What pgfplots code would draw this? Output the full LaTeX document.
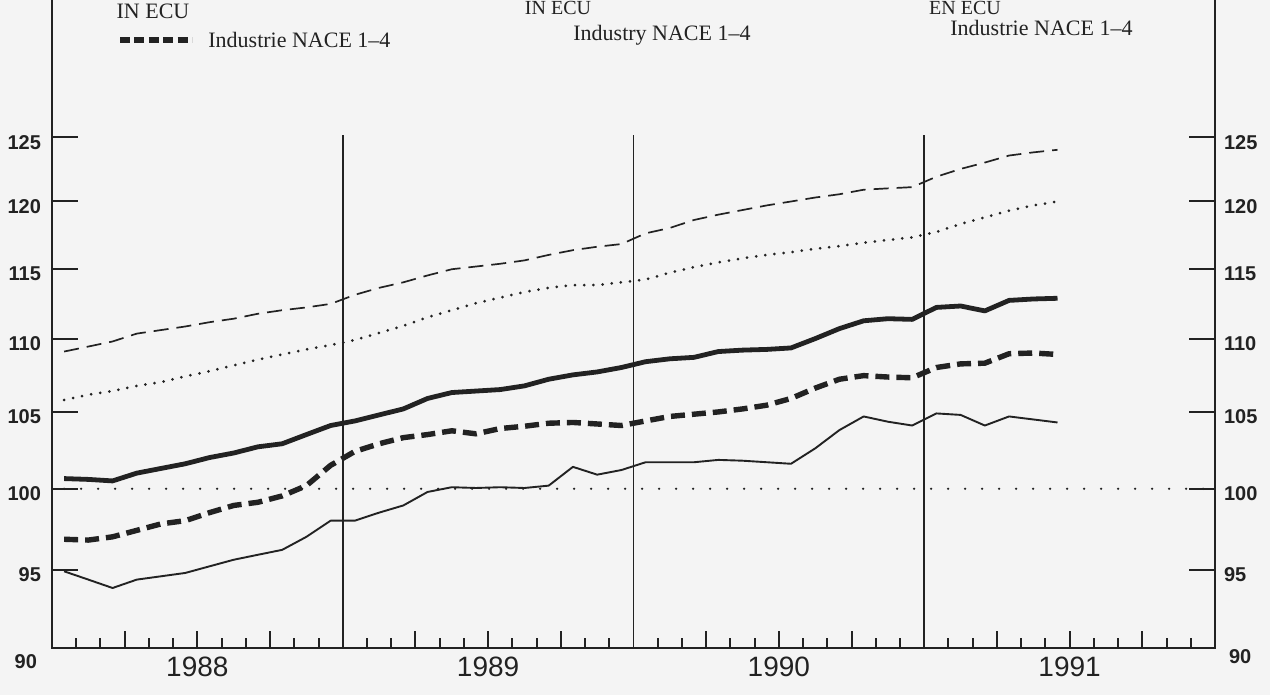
\documentclass[border=0pt]{standalone}
\usepackage{fontspec}
\setmainfont{Liberation Serif}
\newfontfamily\tickfont{Liberation Sans}
\usepackage{pgfplots}
\usepackage{pgfplotstable}
\pgfplotsset{compat=1.18}
\definecolor{ink}{RGB}{34,34,34}
\definecolor{paper}{RGB}{244,244,244}

\pgfplotstableread{
m     E      D      B      C      A
0.5   109.1  105.8  100.65 96.85  94.9
1.5   109.45 106.15 100.6  96.8   94.4
2.5   109.8  106.4  100.5  97.0   93.9
3.5   110.35 106.75 101.0  97.4   94.4
4.5   110.6  107.0  101.3  97.8   94.6
5.5   110.85 107.4  101.6  98.0   94.8
6.5   111.15 107.75 102.0  98.5   95.2
7.5   111.4  108.15 102.3  98.95  95.6
8.5   111.75 108.55 102.7  99.15  95.9
9.5   112.0  108.9  102.9  99.55  96.2
10.5  112.2  109.25 103.5  100.2  97.0
11.5  112.45 109.55 104.1  101.5  98.0
12.5  113.1  109.9  104.4  102.4  98.0
13.5  113.6  110.4  104.8  102.9  98.5
14.5  114.0  110.9  105.2  103.3  98.95
15.5  114.5  111.5  105.9  103.5  99.8
16.5  114.95 112.0  106.3  103.75 100.1
17.5  115.15 112.5  106.4  103.55 100.05
18.5  115.35 112.9  106.5  103.9  100.1
19.5  115.6  113.3  106.75 104.05 100.05
20.5  116.0  113.6  107.2  104.25 100.2
21.5  116.35 113.8  107.5  104.3  101.4
22.5  116.6  113.8  107.7  104.2  100.9
23.5  116.8  114.0  108.0  104.1  101.2
24.5  117.6  114.2  108.4  104.4  101.7
25.5  118.0  114.7  108.6  104.7  101.7
26.5  118.6  115.1  108.7  104.85 101.7
27.5  119.0  115.45 109.1  105.0  101.85
28.5  119.35 115.75 109.2  105.2  101.8
29.5  119.7  116.0  109.25 105.45 101.7
30.5  120.0  116.2  109.35 105.9  101.6
31.5  120.3  116.45 110.0  106.6  102.6
32.5  120.55 116.65 110.7  107.2  103.8
33.5  120.9  116.9  111.25 107.45 104.7
34.5  121.0  117.1  111.4  107.35 104.35
35.5  121.1  117.3  111.35 107.3  104.1
36.5  121.9  117.7  112.2  108.0  104.9
37.5  122.5  118.3  112.3  108.25 104.8
38.5  123.0  118.8  111.95 108.3  104.1
39.5  123.55 119.3  112.7  108.95 104.7
40.5  123.8  119.7  112.8  109.0  104.5
41.5  124.0  120.0  112.85 108.9  104.3
}\data

\begin{document}
\begin{tikzpicture}
\fill[paper] (0,0) rectangle (635pt,347.5pt);
% header texts
\node[ink, font=\fontsize{11}{13}\selectfont] at (76.5pt,342pt) {IN ECU};
\draw[ink, line width=2.6pt, dash pattern=on 5pt off 2.2pt] (60pt,327.5pt) -- (96pt,327.5pt);
\node[ink, anchor=west, inner sep=0pt, font=\fontsize{11}{13}\selectfont] at (104pt,327.5pt) {Industrie NACE 1--4};
\node[ink, anchor=north, inner sep=0pt, font=\fontsize{10}{12}\selectfont] at (279pt,347pt) {IN ECU};
\node[ink, anchor=west, inner sep=0pt, font=\fontsize{11}{13}\selectfont] at (286.5pt,330pt) {Industry NACE 1--4};
\node[ink, anchor=north, inner sep=0pt, font=\fontsize{10}{12}\selectfont] at (482.5pt,347pt) {EN ECU};
\node[ink, anchor=west, inner sep=0pt, font=\fontsize{11}{13}\selectfont] at (475pt,333.5pt) {Industrie NACE 1--4};

\begin{axis}[
  at={(26pt,23.5pt)}, anchor=south west,
  scale only axis, width=581.5pt, height=327.6pt,
  xmin=0, xmax=48, ymode=log, ymin=90.4, ymax=137,
  axis line style={ink, line width=1pt},
  every tick/.style={ink, line width=1pt},
  tick align=inside,
  ytick=\empty,
  extra y ticks={95,100,105,110,115,120,125},
  extra y tick labels={95,100,105,110,115,120,125},
  extra y tick style={major tick length=13pt},
  ytick pos=both,
  xtick pos=left,
  major tick length=5pt,
  xtick={1,2,4,5,7,8,10,11,13,14,16,17,19,20,22,23,25,26,28,29,31,32,34,35,37,38,40,41,43,44,46,47},
  xticklabels={},
  extra x ticks={3,6,9,15,18,21,27,30,33,39,42,45},
  extra x tick labels={,1988,,,1989,,,1990,,,1991,},
  extra x tick style={major tick length=8.5pt, tick label style={font=\tickfont\fontsize{14}{16}\selectfont, ink, yshift=-1pt}},
  yticklabel style={font=\tickfont\bfseries\fontsize{10}{12}\selectfont, ink, yshift=-2.5pt, xshift=-2pt},
  clip=true,
]
\addplot[ink, line width=1.25pt, line cap=round, dash pattern=on 0pt off 8.5pt] coordinates {(0.5,100) (47.6,100)};
\addplot[ink, line width=0.85pt, dash pattern=on 7.5pt off 4pt] table[x=m, y=E] {\data};
\addplot[ink, line width=1.5pt, line cap=round, dash pattern=on 0pt off 4.6pt] table[x=m, y=D] {\data};
\addplot[ink, line width=2.4pt, line join=round] table[x=m, y=B] {\data};
\addplot[ink, line width=2.7pt, dash pattern=on 7pt off 3.5pt, line join=round] table[x=m, y=C] {\data};
\addplot[ink, line width=0.95pt, line join=round] table[x=m, y=A] {\data};
\draw[ink, line width=0.9pt] (axis cs:12,90.4) -- (axis cs:12,125.2);
\draw[ink, line width=0.9pt] (axis cs:24,90.4) -- (axis cs:24,125.2);
\draw[ink, line width=0.9pt] (axis cs:36,90.4) -- (axis cs:36,125.2);
\end{axis}
\begin{axis}[
  at={(26pt,23.5pt)}, anchor=south west,
  scale only axis, width=581.5pt, height=327.6pt,
  xmin=0, xmax=48, ymode=log, ymin=90.4, ymax=137,
  axis line style={draw=none},
  every tick/.style={draw=none},
  xtick=\empty,
  ytick={95,100,105,110,115,120,125},
  yticklabels={95,100,105,110,115,120,125},
  yticklabel pos=right,
  yticklabel style={font=\tickfont\bfseries\fontsize{10}{12}\selectfont, ink, yshift=-2.5pt, xshift=1pt},
]
\end{axis}
\node[ink, anchor=east, font=\tickfont\bfseries\fontsize{10}{12}\selectfont] at (22pt,16.5pt) {90};
\node[ink, anchor=west, font=\tickfont\bfseries\fontsize{10}{12}\selectfont] at (611pt,19pt) {90};
\pgfresetboundingbox
\path[use as bounding box] (0,0) rectangle (635pt,347.5pt);
\end{tikzpicture}
\end{document}
